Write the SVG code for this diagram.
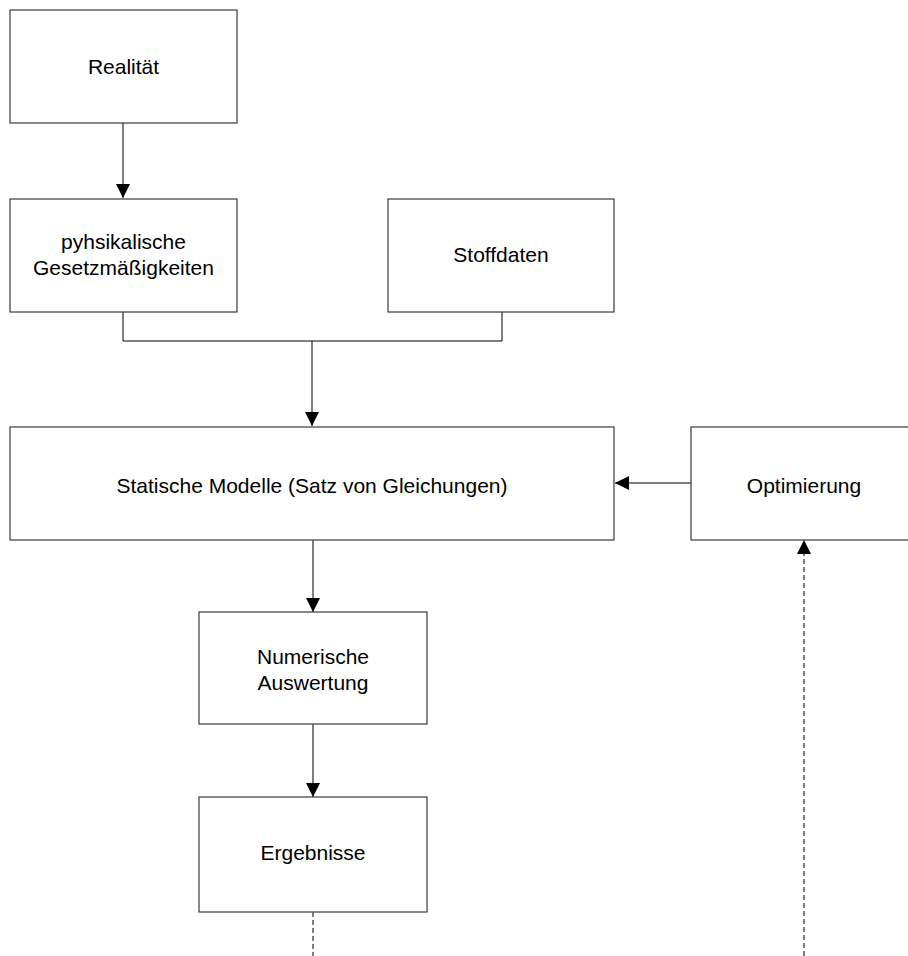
<svg xmlns="http://www.w3.org/2000/svg" width="908" height="956" viewBox="0 0 908 956">
  <style>
    .box { fill: #ffffff; stroke: #3a3a3a; stroke-width: 1.2; }
    .lbl { font-family: "Liberation Sans", Arial, sans-serif; font-size: 21px; fill: #000; text-anchor: middle; }
    .edge { fill: none; stroke: #000; stroke-width: 1; }
    .dash { stroke-dasharray: 5 3; }
  </style>
  <defs>
    <marker id="head" viewBox="0 0 14 14" refX="14" refY="7" markerWidth="14" markerHeight="14" markerUnits="userSpaceOnUse" orient="auto">
      <path d="M0,0 L14,7 L0,14 Z" fill="#000"/>
    </marker>
  </defs>

  <g id="connectors">
    <line class="edge" x1="123" y1="123" x2="123" y2="198" marker-end="url(#head)"/>
    <polyline class="edge" points="123,312 123,341 502,341 502,312"/>
    <line class="edge" x1="312" y1="341" x2="312" y2="426" marker-end="url(#head)"/>
    <line class="edge" x1="691" y1="483" x2="615" y2="483" marker-end="url(#head)"/>
    <line class="edge" x1="313" y1="540" x2="313" y2="612" marker-end="url(#head)"/>
    <line class="edge" x1="313" y1="724" x2="313" y2="797" marker-end="url(#head)"/>
    <line class="edge dash" x1="313" y1="912" x2="313" y2="956"/>
    <line class="edge dash" x1="804" y1="956" x2="804" y2="540" marker-end="url(#head)"/>
  </g>

  <g id="realitaet">
    <rect class="box" x="10" y="10" width="227" height="113"/>
    <text class="lbl" x="123.5" y="74">Realität</text>
  </g>

  <g id="gesetze">
    <rect class="box" x="10" y="199" width="227" height="113"/>
    <text class="lbl" x="123.5" y="249">pyhsikalische</text>
    <text class="lbl" x="123.5" y="275">Gesetzmäßigkeiten</text>
  </g>

  <g id="stoffdaten">
    <rect class="box" x="388" y="199" width="226" height="113"/>
    <text class="lbl" x="501" y="262">Stoffdaten</text>
  </g>

  <g id="modelle">
    <rect class="box" x="10" y="427" width="604" height="113"/>
    <text class="lbl" x="312" y="493">Statische Modelle (Satz von Gleichungen)</text>
  </g>

  <g id="optimierung">
    <rect class="box" x="691" y="427" width="226" height="113"/>
    <text class="lbl" x="804" y="493">Optimierung</text>
  </g>

  <g id="auswertung">
    <rect class="box" x="199" y="612" width="228" height="112"/>
    <text class="lbl" x="313" y="664">Numerische</text>
    <text class="lbl" x="313" y="690">Auswertung</text>
  </g>

  <g id="ergebnisse">
    <rect class="box" x="199" y="797" width="228" height="115"/>
    <text class="lbl" x="313" y="860">Ergebnisse</text>
  </g>
</svg>
